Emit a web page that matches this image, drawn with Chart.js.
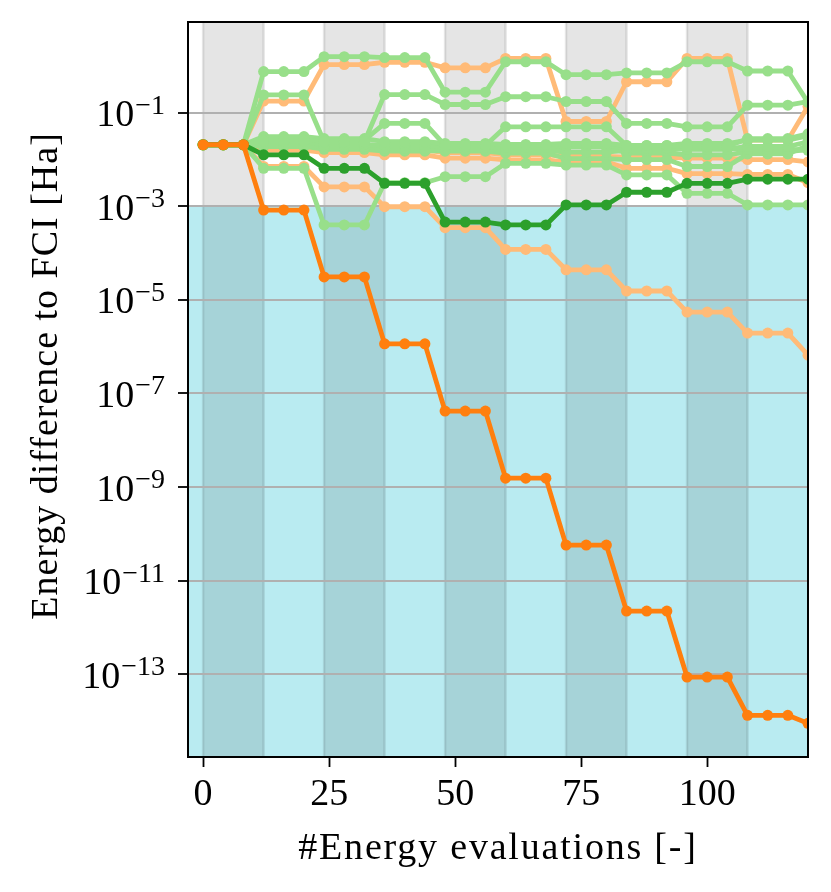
<!DOCTYPE html>
<html>
<head>
<meta charset="utf-8">
<script src="https://cdn.jsdelivr.net/npm/chart.js@4/dist/chart.umd.min.js"></script>
<style>
  html, body { margin: 0; padding: 0; background: #fff; }
  #wrap { width: 831px; height: 892px; position: relative; }
</style>
</head>
<body>
<div id="wrap"><canvas id="chart"></canvas></div>
<script>
// Energy difference to FCI vs number of energy evaluations (log y)

const evals = [0, 4, 8, 12, 16, 20, 24, 28, 32, 36, 40, 44, 48, 52, 56, 60, 64, 68,
               72, 76, 80, 84, 88, 92, 96, 100, 104, 108, 112, 116, 120];
const xTicks = [0, 25, 50, 75, 100];
const yTicks = [1e-13, 1e-11, 1e-9, 1e-7, 1e-5, 1e-3, 1e-1];
const bandStarts = [0, 24, 48, 72, 96];   // shaded cycles, 12 evaluations wide
const bandWidth = 12;
const accuracyLimit = 1e-3;               // region below is shaded cyan

// highlighted runs
const orangeBest = [
  2.07e-2, 2.07e-2, 2.07e-2, 8.3e-4, 8.3e-4, 8.3e-4, 3.1e-5, 3.1e-5, 3.1e-5,
  1.15e-6, 1.15e-6, 1.15e-6, 4.2e-8, 4.2e-8, 4.2e-8, 1.55e-9, 1.55e-9, 1.55e-9,
  5.75e-11, 5.75e-11, 5.75e-11, 2.24e-12, 2.24e-12, 2.24e-12, 8.7e-14, 8.7e-14, 8.7e-14,
  1.32e-14, 1.32e-14, 1.32e-14, 8.9e-15];
const greenBest = [
  2.07e-2, 2.07e-2, 2.07e-2, 1.26e-2, 1.26e-2, 1.26e-2, 6.5e-3, 6.5e-3, 6.5e-3,
  3.1e-3, 3.1e-3, 3.1e-3, 4.6e-4, 4.6e-4, 4.6e-4, 4.0e-4, 4.0e-4, 4.0e-4,
  1.07e-3, 1.07e-3, 1.07e-3, 2.0e-3, 2.0e-3, 2.0e-3, 3.1e-3, 3.1e-3, 3.1e-3,
  3.8e-3, 3.8e-3, 3.8e-3, 3.8e-3];

// other orange runs
const orangeRun1 = [
  2.07e-2, 2.07e-2, 2.07e-2, 7.1e-3, 7.1e-3, 7.1e-3, 2.6e-3, 2.6e-3, 2.6e-3,
  9.8e-4, 9.8e-4, 9.8e-4, 3.5e-4, 3.5e-4, 3.5e-4, 1.2e-4, 1.2e-4, 1.2e-4,
  4.4e-5, 4.4e-5, 4.4e-5, 1.55e-5, 1.55e-5, 1.55e-5, 5.5e-6, 5.5e-6, 5.5e-6,
  1.95e-6, 1.95e-6, 1.95e-6, 6.6e-7];
const orangeRun2 = [
  2.07e-2, 2.07e-2, 2.07e-2, 0.178, 0.178, 0.178, 1.07, 1.07, 1.07,
  1.2, 1.2, 1.2, 0.91, 0.91, 0.91, 1.45, 1.45, 1.45,
  0.065, 0.065, 0.065, 0.46, 0.46, 0.46, 1.45, 1.45, 1.45,
  0.026, 0.026, 0.026, 0.138];
const orangeRun3 = [
  2.07e-2, 2.07e-2, 2.07e-2, 1.58e-2, 1.58e-2, 1.58e-2, 1.41e-2, 1.41e-2, 1.41e-2,
  1.26e-2, 1.26e-2, 1.26e-2, 1.07e-2, 1.07e-2, 1.07e-2, 9.8e-3, 9.8e-3, 9.8e-3,
  8.9e-3, 8.9e-3, 8.9e-3, 6.5e-3, 6.5e-3, 6.5e-3, 5.0e-3, 5.0e-3, 5.0e-3,
  4.8e-3, 4.8e-3, 4.8e-3, 3.2e-3];
const orangeRun4 = [
  2.07e-2, 2.07e-2, 2.07e-2, 1.9e-2, 1.9e-2, 1.9e-2, 1.74e-2, 1.74e-2, 1.74e-2,
  1.58e-2, 1.58e-2, 1.58e-2, 1.41e-2, 1.41e-2, 1.41e-2, 1.26e-2, 1.26e-2, 1.26e-2,
  1.17e-2, 1.17e-2, 1.17e-2, 1.12e-2, 1.12e-2, 1.12e-2, 1.07e-2, 1.07e-2, 1.07e-2,
  1.0e-2, 1.0e-2, 1.0e-2, 8.9e-3];

// other green runs
const greenRun1 = [
  2.07e-2, 2.07e-2, 2.07e-2, 0.76, 0.76, 0.76, 1.58, 1.58, 1.58,
  1.51, 1.51, 1.51, 0.275, 0.275, 0.275, 1.23, 1.23, 1.23,
  0.65, 0.65, 0.65, 0.71, 0.71, 0.71, 1.23, 1.23, 1.23,
  0.78, 0.78, 0.78, 0.166];
const greenRun2 = [
  2.07e-2, 2.07e-2, 2.07e-2, 0.24, 0.24, 0.24, 2.4e-2, 2.4e-2, 2.4e-2,
  0.245, 0.245, 0.245, 0.15, 0.15, 0.15, 0.22, 0.22, 0.22,
  0.174, 0.174, 0.174, 5.9e-2, 5.9e-2, 5.9e-2, 5.0e-2, 5.0e-2, 5.0e-2,
  0.145, 0.145, 0.145, 0.174];
const greenRun3 = [
  2.07e-2, 2.07e-2, 2.07e-2, 2.5e-2, 2.5e-2, 2.5e-2, 2.6e-2, 2.6e-2, 2.6e-2,
  5.9e-2, 5.9e-2, 5.9e-2, 2.0e-2, 2.0e-2, 2.0e-2, 5.0e-2, 5.0e-2, 5.0e-2,
  5.0e-2, 5.0e-2, 5.0e-2, 2.0e-2, 2.0e-2, 2.0e-2, 1.9e-2, 1.9e-2, 1.9e-2,
  2.8e-2, 2.8e-2, 2.8e-2, 3.55e-2];
const greenRun4 = [
  2.07e-2, 2.07e-2, 2.07e-2, 6.5e-3, 6.5e-3, 6.5e-3, 4.0e-4, 4.0e-4, 4.0e-4,
  3.2e-3, 3.2e-3, 3.2e-3, 4.3e-3, 4.3e-3, 4.3e-3, 8.3e-3, 8.3e-3, 8.3e-3,
  7.6e-3, 7.6e-3, 7.6e-3, 4.7e-3, 4.7e-3, 4.7e-3, 1.9e-3, 1.9e-3, 1.9e-3,
  1.07e-3, 1.07e-3, 1.07e-3, 1.07e-3];
const greenRun5 = [
  2.07e-2, 2.07e-2, 2.07e-2, 3.1e-2, 3.1e-2, 3.1e-2, 2.8e-2, 2.8e-2, 2.8e-2,
  2.4e-2, 2.4e-2, 2.4e-2, 2.2e-2, 2.2e-2, 2.2e-2, 2.1e-2, 2.1e-2, 2.1e-2,
  2.2e-2, 2.2e-2, 2.2e-2, 2.0e-2, 2.0e-2, 2.0e-2, 2.2e-2, 2.2e-2, 2.2e-2,
  2.6e-2, 2.6e-2, 2.6e-2, 3.2e-2];
const greenRun6 = [
  2.07e-2, 2.07e-2, 2.07e-2, 2.3e-2, 2.3e-2, 2.3e-2, 2.1e-2, 2.1e-2, 2.1e-2,
  2.0e-2, 2.0e-2, 2.0e-2, 1.86e-2, 1.86e-2, 1.86e-2, 1.82e-2, 1.82e-2, 1.82e-2,
  2.0e-2, 2.0e-2, 2.0e-2, 1.78e-2, 1.78e-2, 1.78e-2, 1.66e-2, 1.66e-2, 1.66e-2,
  1.9e-2, 1.9e-2, 1.9e-2, 2.4e-2];
const greenRun7 = [
  2.07e-2, 2.07e-2, 2.07e-2, 2.0e-2, 2.0e-2, 2.0e-2, 1.9e-2, 1.9e-2, 1.9e-2,
  1.74e-2, 1.74e-2, 1.74e-2, 1.66e-2, 1.66e-2, 1.66e-2, 1.58e-2, 1.58e-2, 1.58e-2,
  1.45e-2, 1.45e-2, 1.45e-2, 1.58e-2, 1.58e-2, 1.58e-2, 1.74e-2, 1.74e-2, 1.74e-2,
  1.66e-2, 1.66e-2, 1.66e-2, 1.58e-2];
const greenRun8 = [
  2.07e-2, 2.07e-2, 2.07e-2, 2.2e-2, 2.2e-2, 2.2e-2, 1.82e-2, 1.82e-2, 1.82e-2,
  1.58e-2, 1.58e-2, 1.58e-2, 1.51e-2, 1.51e-2, 1.51e-2, 1.38e-2, 1.38e-2, 1.38e-2,
  1.05e-2, 1.05e-2, 1.05e-2, 1.0e-2, 1.0e-2, 1.0e-2, 7.1e-3, 7.1e-3, 7.1e-3,
  1.32e-2, 1.32e-2, 1.32e-2, 2.0e-2];
const greenRun9 = [
  2.07e-2, 2.07e-2, 2.07e-2, 1.9e-2, 1.9e-2, 1.9e-2, 1.66e-2, 1.66e-2, 1.66e-2,
  1.51e-2, 1.51e-2, 1.51e-2, 1.58e-2, 1.58e-2, 1.58e-2, 1.74e-2, 1.74e-2, 1.74e-2,
  1.9e-2, 1.9e-2, 1.9e-2, 1.38e-2, 1.38e-2, 1.38e-2, 1.26e-2, 1.26e-2, 1.26e-2,
  1.45e-2, 1.45e-2, 1.45e-2, 1.66e-2];

const DARK_ORANGE = '#ff7f0e', LIGHT_ORANGE = '#ffbb78';
const DARK_GREEN = '#2ca02c', LIGHT_GREEN = '#98df8a';
const FONT = 'Liberation Serif';
const X_TITLE = '#Energy evaluations [-]';
const Y_TITLE = 'Energy difference to FCI [Ha]';

function run(values, color) {
    return {
        data: evals.map((x, i) => ({ x: x, y: values[i] })),
        borderColor: color,
        backgroundColor: color,
        pointBackgroundColor: color,
        pointBorderColor: color,
        pointBorderWidth: 0,
        pointRadius: 5.5,
        borderWidth: 4.8,
        borderJoinStyle: 'round',
        clip: 0
    };
}

// first dataset ends up on top
const datasets = [
    run(orangeBest, DARK_ORANGE),
    run(greenBest, DARK_GREEN),
    run(greenRun1, LIGHT_GREEN), run(greenRun2, LIGHT_GREEN), run(greenRun3, LIGHT_GREEN),
    run(greenRun4, LIGHT_GREEN), run(greenRun5, LIGHT_GREEN), run(greenRun6, LIGHT_GREEN),
    run(greenRun7, LIGHT_GREEN), run(greenRun8, LIGHT_GREEN), run(greenRun9, LIGHT_GREEN),
    run(orangeRun1, LIGHT_ORANGE), run(orangeRun2, LIGHT_ORANGE),
    run(orangeRun3, LIGHT_ORANGE), run(orangeRun4, LIGHT_ORANGE)
];

// ── Background shading, frame, titles and 10^n labels ─────────
const decor = {
    id: 'decor',
    beforeDraw(chart) {
        const { ctx, chartArea: a, scales: { x, y } } = chart;
        ctx.save();
        ctx.beginPath();
        ctx.rect(a.left, a.top, a.right - a.left, a.bottom - a.top);
        ctx.clip();
        const ty = y.getPixelForValue(accuracyLimit);
        ctx.fillStyle = 'rgba(23,190,207,0.3)';
        ctx.fillRect(a.left, ty, a.right - a.left, a.bottom - ty);
        ctx.fillStyle = 'rgba(0,0,0,0.1)';
        ctx.strokeStyle = 'rgba(0,0,0,0.1)';
        ctx.lineWidth = 2.5;
        bandStarts.forEach(s => {
            const x0 = x.getPixelForValue(s), x1 = x.getPixelForValue(s + bandWidth);
            ctx.fillRect(x0, a.top, x1 - x0, a.bottom - a.top);
            ctx.beginPath();
            ctx.moveTo(x0, a.top); ctx.lineTo(x0, a.bottom);
            ctx.moveTo(x1, a.top); ctx.lineTo(x1, a.bottom);
            ctx.stroke();
        });
        ctx.restore();
    },
    afterDraw(chart) {
        const { ctx, chartArea: a, scales: { y } } = chart;
        ctx.save();
        ctx.strokeStyle = '#000';
        ctx.lineWidth = 2;
        ctx.strokeRect(a.left, a.top, a.right - a.left, a.bottom - a.top);

        ctx.fillStyle = '#000';
        ctx.textAlign = 'right';
        ctx.textBaseline = 'alphabetic';
        const right = a.left - 23;
        yTicks.forEach(v => {
            const py = y.getPixelForValue(v);
            const exp = '\u2212' + Math.round(-Math.log10(v));
            ctx.font = '28px "' + FONT + '"';
            const ew = ctx.measureText(exp).width;
            ctx.fillText(exp, right, py + 1);
            ctx.font = '38px "' + FONT + '"';
            ctx.fillText('10', right - ew - 1, py + 13.5);
        });

        // axis titles (CM in the original is wider than Times, so spread a little)
        ctx.font = '38px "' + FONT + '"';
        ctx.textAlign = 'center';
        ctx.letterSpacing = '1.8px';
        ctx.fillText(X_TITLE, (a.left + a.right) / 2, 859);
        ctx.letterSpacing = '1px';
        ctx.translate(57, 376);
        ctx.rotate(-Math.PI / 2);
        ctx.fillText(Y_TITLE, 0, 0);
        ctx.restore();
    }
};

new Chart(document.getElementById('chart').getContext('2d'), {
    type: 'line',
    data: { datasets },
    plugins: [decor],
    options: {
        responsive: true, maintainAspectRatio: false, animation: false,
        layout: { padding: { top: 22, right: 23, bottom: 0, left: 0 } },
        plugins: { legend: { display: false }, tooltip: { enabled: false } },
        scales: {
            x: {
                type: 'linear', min: -3, max: 120,
                afterBuildTicks: s => { s.ticks = xTicks.map(v => ({ value: v })); },
                afterFit: s => { s.height = 135; },
                ticks: { color: '#000', font: { family: FONT, size: 38 }, padding: 5,
                         maxRotation: 0, autoSkip: false, callback: v => String(v) },
                grid: { drawOnChartArea: false, tickLength: 10, tickColor: '#000', tickWidth: 1.8 },
                border: { display: false }
            },
            y: {
                type: 'logarithmic', min: 1.7e-15, max: 8.7,
                afterBuildTicks: s => { s.ticks = yTicks.map(v => ({ value: v })); },
                afterFit: s => { s.width = 188; },
                ticks: { display: false },
                grid: { color: '#b0b0b0', lineWidth: 2, tickLength: 10, tickColor: '#000', tickWidth: 1.8 },
                border: { display: false }
            }
        }
    }
});
</script>
</body>
</html>
